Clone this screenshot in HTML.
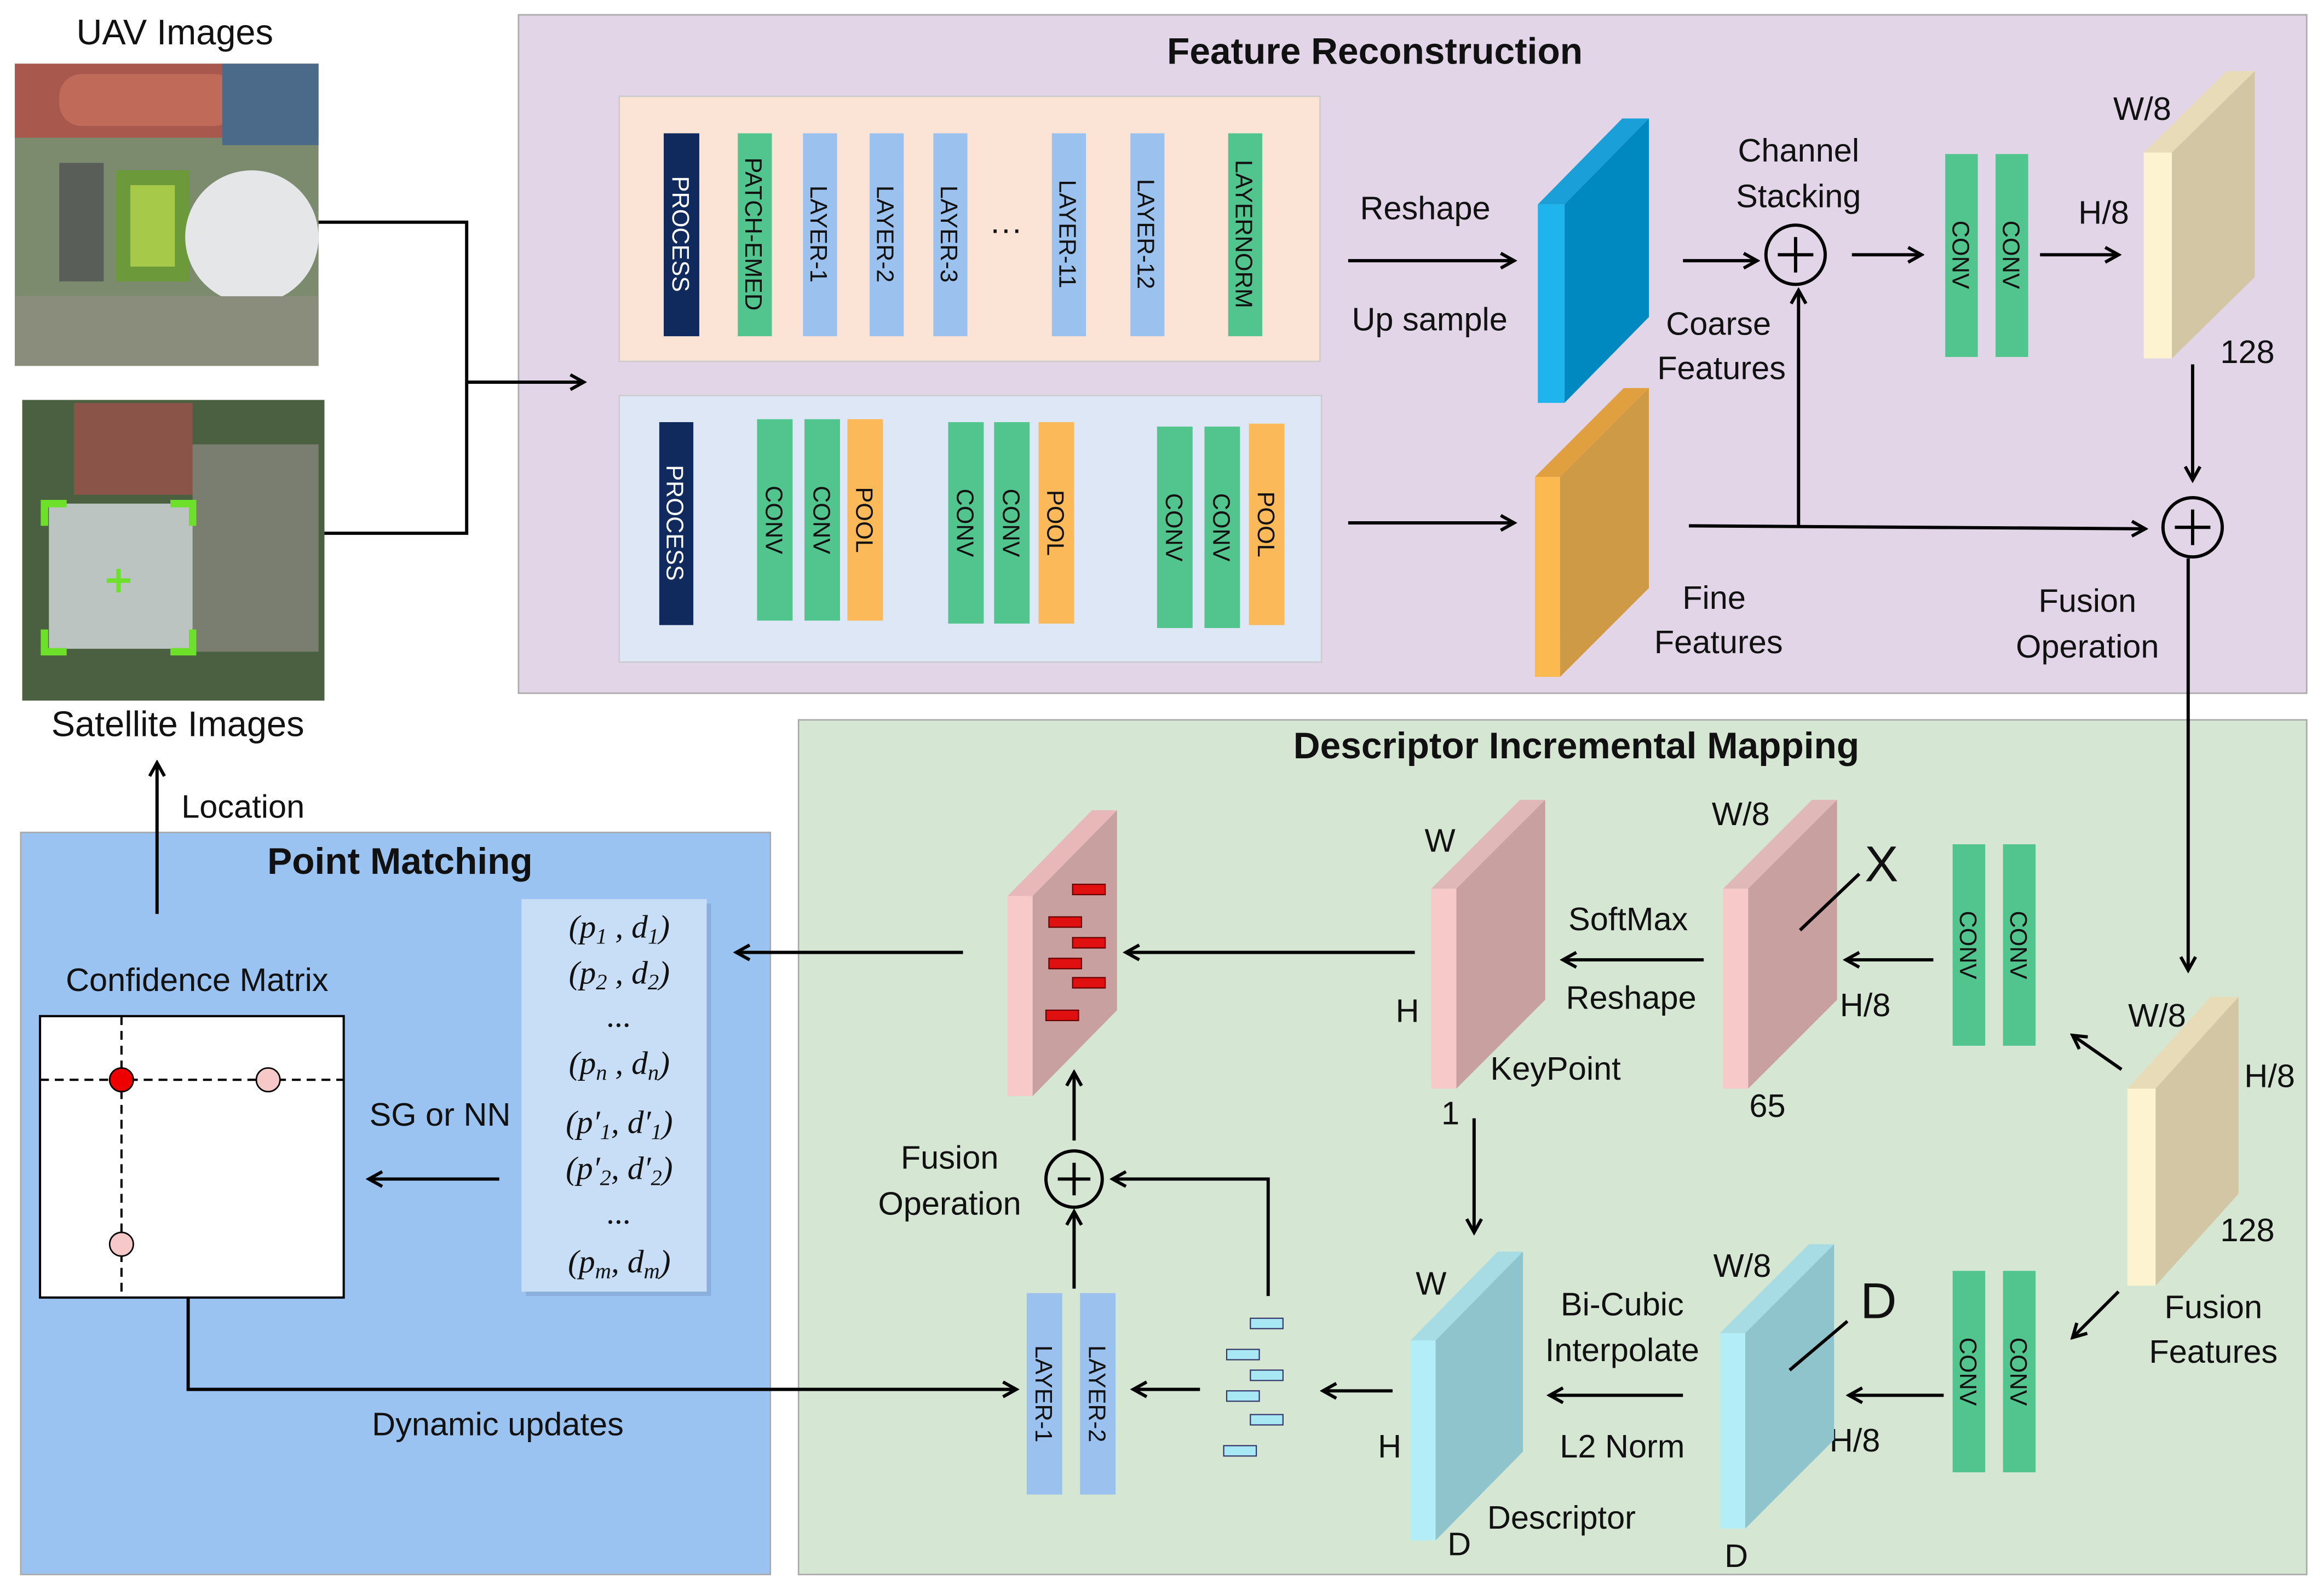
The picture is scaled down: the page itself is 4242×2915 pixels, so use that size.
<!DOCTYPE html>
<html><head><meta charset="utf-8"><style>html,body{margin:0;padding:0;background:#fff}svg{display:block}text{font-family:"Liberation Sans",sans-serif;fill:#111}text.m{font-family:"Liberation Serif",serif;font-style:italic}</style></head>
<body>
<svg width="4242" height="2915" viewBox="0 0 1568 1077.5" xmlns="http://www.w3.org/2000/svg">
<defs>
<marker id="a" markerWidth="12" markerHeight="12" refX="10" refY="6" orient="auto" markerUnits="userSpaceOnUse">
<path d="M1,1 L10,6 L1,11" fill="none" stroke="#000" stroke-width="2.2"/></marker>
</defs>
<rect width="1568" height="1077.5" fill="#fff"/>
<!-- photos -->
<text x="118" y="30" font-size="24" text-anchor="middle">UAV  Images</text>
<rect x="10" y="43" width="205" height="204" fill="#7c8a6e"/>
<rect x="10" y="43" width="205" height="50" fill="#a8584c"/>
<rect x="40" y="50" width="120" height="35" rx="15" fill="#c06a5a"/>
<rect x="150" y="43" width="65" height="55" fill="#4b6a8a"/>
<rect x="78" y="115" width="50" height="75" fill="#6c9a3a"/>
<rect x="88" y="125" width="30" height="55" fill="#a6c94a"/>
<ellipse cx="170" cy="160" rx="45" ry="45" fill="#e4e6e8"/>
<rect x="10" y="200" width="205" height="47" fill="#8a8c7c"/>
<rect x="40" y="110" width="30" height="80" fill="#5a5e58"/>
<text x="120" y="497" font-size="24" text-anchor="middle">Satellite Images</text>
<rect x="15" y="270" width="204" height="203" fill="#4a6040"/>
<rect x="50" y="272" width="80" height="62" fill="#8a5548"/>
<rect x="130" y="300" width="85" height="140" fill="#7a7e70"/>
<rect x="33" y="340" width="97" height="98" fill="#c8cfcf" opacity="0.9"/>
<path d="M30,355 V340 H45 M115,340 H130 V355 M130,425 V440 H115 M45,440 H30 V425" fill="none" stroke="#6de02a" stroke-width="5"/>
<path d="M72,392 H88 M80,384 V400" stroke="#6de02a" stroke-width="3"/>
<!-- Feature Reconstruction -->
<rect x="350" y="10" width="1207" height="458" fill="#e3d5e8" stroke="#aaa" stroke-width="1"/>
<!-- connectors from images -->
<path d="M215,150 H315 V360 H219" fill="none" stroke="#000" stroke-width="2.2"/>
<line x1="315" y1="258" x2="394" y2="258" stroke="#000" stroke-width="2.2" marker-end="url(#a)"/>
<text x="928" y="43" font-size="25" font-weight="bold" text-anchor="middle">Feature Reconstruction</text>
<rect x="418" y="65" width="473" height="179" fill="#fbe3d5" stroke="#ccc"/>
<rect x="418" y="267" width="474" height="180" fill="#dde7f5" stroke="#ccc"/>
<g font-size="16">
<rect x="448" y="90" width="24" height="137" fill="#102a5e"/><text transform="rotate(90 460 158)" x="460" y="164" text-anchor="middle" style="fill:#fff">PROCESS</text>
<rect x="498" y="90" width="23" height="137" fill="#52c58e"/><text transform="rotate(90 509 158)" x="509" y="164" text-anchor="middle">PATCH-EMED</text>
<rect x="542" y="90" width="23" height="137" fill="#9bc2ef"/><text transform="rotate(90 553 158)" x="553" y="164" text-anchor="middle">LAYER-1</text>
<rect x="587" y="90" width="23" height="137" fill="#9bc2ef"/><text transform="rotate(90 598 158)" x="598" y="164" text-anchor="middle">LAYER-2</text>
<rect x="630" y="90" width="23" height="137" fill="#9bc2ef"/><text transform="rotate(90 641 158)" x="641" y="164" text-anchor="middle">LAYER-3</text>
<text x="679" y="162" font-size="22" text-anchor="middle">···</text>
<rect x="710" y="90" width="23" height="137" fill="#9bc2ef"/><text transform="rotate(90 721 158)" x="721" y="164" text-anchor="middle">LAYER-11</text>
<rect x="763" y="90" width="23" height="137" fill="#9bc2ef"/><text transform="rotate(90 774 158)" x="774" y="164" text-anchor="middle">LAYER-12</text>
<rect x="829" y="90" width="23" height="137" fill="#52c58e"/><text transform="rotate(90 840 158)" x="840" y="164" text-anchor="middle">LAYERNORM</text>

<rect x="445" y="285" width="23" height="137" fill="#102a5e"/><text transform="rotate(90 456 353)" x="456" y="359" text-anchor="middle" style="fill:#fff">PROCESS</text>
<rect x="511" y="283" width="24" height="136" fill="#52c58e"/><text transform="rotate(90 523 351)" x="523" y="357" text-anchor="middle">CONV</text>
<rect x="543" y="283" width="24" height="136" fill="#52c58e"/><text transform="rotate(90 555 351)" x="555" y="357" text-anchor="middle">CONV</text>
<rect x="572" y="283" width="24" height="136" fill="#fbb95a"/><text transform="rotate(90 584 351)" x="584" y="357" text-anchor="middle">POOL</text>
<rect x="640" y="285" width="24" height="136" fill="#52c58e"/><text transform="rotate(90 652 353)" x="652" y="359" text-anchor="middle">CONV</text>
<rect x="671" y="285" width="24" height="136" fill="#52c58e"/><text transform="rotate(90 683 353)" x="683" y="359" text-anchor="middle">CONV</text>
<rect x="701" y="285" width="24" height="136" fill="#fbb95a"/><text transform="rotate(90 713 353)" x="713" y="359" text-anchor="middle">POOL</text>
<rect x="781" y="288" width="24" height="136" fill="#52c58e"/><text transform="rotate(90 793 356)" x="793" y="362" text-anchor="middle">CONV</text>
<rect x="813" y="288" width="24" height="136" fill="#52c58e"/><text transform="rotate(90 825 356)" x="825" y="362" text-anchor="middle">CONV</text>
<rect x="843" y="286" width="24" height="136" fill="#fbb95a"/><text transform="rotate(90 855 354)" x="855" y="360" text-anchor="middle">POOL</text>
</g>
<g font-size="22" text-anchor="middle">
<text x="962" y="148">Reshape</text><text x="965" y="223">Up sample</text>
<text x="1214" y="109">Channel</text><text x="1214" y="140">Stacking</text>
<text x="1160" y="226">Coarse</text><text x="1162" y="256">Features</text>
<text x="1420" y="151">H/8</text><text x="1446" y="81">W/8</text><text x="1517" y="245">128</text>
<text x="1157" y="411">Fine</text><text x="1160" y="441">Features</text>
<text x="1409" y="413">Fusion</text><text x="1409" y="444">Operation</text>
</g>
<g stroke="#000" stroke-width="2.2" fill="none">
<line x1="910" y1="176" x2="1022" y2="176" marker-end="url(#a)"/>
<line x1="910" y1="353" x2="1022" y2="353" marker-end="url(#a)"/>
<line x1="1136" y1="176" x2="1186" y2="176" marker-end="url(#a)"/>
<line x1="1250" y1="172" x2="1297" y2="172" marker-end="url(#a)"/>
<line x1="1377" y1="172" x2="1430" y2="172" marker-end="url(#a)"/>
<line x1="1480" y1="246" x2="1480" y2="324" marker-end="url(#a)"/>
<line x1="1140" y1="355" x2="1448" y2="357" marker-end="url(#a)"/>
<line x1="1214" y1="355" x2="1214" y2="196" marker-end="url(#a)"/>
<circle cx="1212" cy="172" r="20"/><path d="M1212,160 V184 M1200,172 H1224"/>
<circle cx="1480" cy="356" r="20"/><path d="M1480,344 V368 M1468,356 H1492"/>
</g>
<rect x="1313" y="104" width="22" height="137" fill="#52c58e"/><text transform="rotate(90 1324 172)" x="1324" y="178" font-size="16" text-anchor="middle">CONV</text>
<rect x="1347" y="104" width="22" height="137" fill="#52c58e"/><text transform="rotate(90 1358 172)" x="1358" y="178" font-size="16" text-anchor="middle">CONV</text>
<!-- slabs top -->
<polygon points="1038,138 1095,80 1113,80 1056,138" fill="#1a9fd8"/><polygon points="1056,138 1113,80 1113,214 1056,272" fill="#0089c0"/><rect x="1038" y="138" width="18" height="134" fill="#1eb4ee"/>
<polygon points="1036,322 1096,262 1113,262 1053,322" fill="#e0a040"/><polygon points="1053,322 1113,262 1113,397 1053,457" fill="#cf9a45"/><rect x="1036" y="322" width="17" height="135" fill="#fbb950"/>
<polygon points="1447,103 1503,48 1522,48 1466,103" fill="#e8dcb8"/><polygon points="1466,103 1522,48 1522,187 1466,242" fill="#d2c6a5"/><rect x="1447" y="103" width="19" height="139" fill="#fdf3d0"/>
<!-- Descriptor Incremental Mapping -->
<rect x="539" y="486" width="1018" height="577" fill="#d5e7d3" stroke="#aaa" stroke-width="1"/>
<line x1="1477" y1="377" x2="1477" y2="655" stroke="#000" stroke-width="2.2" marker-end="url(#a)"/>
<text x="1064" y="512" font-size="25" font-weight="bold" text-anchor="middle">Descriptor  Incremental Mapping</text>
<!-- Point Matching -->
<rect x="14" y="562" width="506" height="501" fill="#9bc3f1" stroke="#aaa" stroke-width="1"/>
<text x="270" y="590" font-size="25" font-weight="bold" text-anchor="middle">Point Matching</text>
<line x1="106" y1="617" x2="106" y2="515" stroke="#000" stroke-width="2.2" marker-end="url(#a)"/>
<text x="164" y="552" font-size="22" text-anchor="middle">Location</text>
<text x="133" y="669" font-size="22" text-anchor="middle">Confidence Matrix</text>
<rect x="27" y="686" width="205" height="190" fill="#fff" stroke="#000" stroke-width="1.5"/>
<path d="M27,729 H232 M82,686 V876" stroke="#000" stroke-width="1.5" stroke-dasharray="6,4"/>
<circle cx="82" cy="729" r="8" fill="#e00" stroke="#000"/><circle cx="181" cy="729" r="8" fill="#f6c8c8" stroke="#000"/><circle cx="82" cy="840" r="8" fill="#f6c8c8" stroke="#000"/>
<rect x="355" y="610" width="125" height="265" fill="#7a9cc8" opacity="0.5"/>
<rect x="352" y="607" width="125" height="265" fill="#c8def7"/>
<g font-size="22" text-anchor="middle">
<text class="m" x="418" y="633">(p<tspan font-size="15" dy="4">1</tspan><tspan dy="-4"> ,  d</tspan><tspan font-size="15" dy="4">1</tspan><tspan dy="-4">)</tspan></text>
<text class="m" x="418" y="664">(p<tspan font-size="15" dy="4">2</tspan><tspan dy="-4"> ,  d</tspan><tspan font-size="15" dy="4">2</tspan><tspan dy="-4">)</tspan></text>
<text class="m" x="418" y="693">...</text>
<text class="m" x="418" y="725">(p<tspan font-size="15" dy="4">n</tspan><tspan dy="-4">  ,  d</tspan><tspan font-size="15" dy="4">n</tspan><tspan dy="-4">)</tspan></text>
<text class="m" x="418" y="765">(p′<tspan font-size="15" dy="4">1</tspan><tspan dy="-4">, d′</tspan><tspan font-size="15" dy="4">1</tspan><tspan dy="-4">)</tspan></text>
<text class="m" x="418" y="796">(p′<tspan font-size="15" dy="4">2</tspan><tspan dy="-4">, d′</tspan><tspan font-size="15" dy="4">2</tspan><tspan dy="-4">)</tspan></text>
<text class="m" x="418" y="826">...</text>
<text class="m" x="418" y="859">(p<tspan font-size="15" dy="4">m</tspan><tspan dy="-4">, d</tspan><tspan font-size="15" dy="4">m</tspan><tspan dy="-4">)</tspan></text>
</g>
<g font-size="22" text-anchor="middle">
<text x="297" y="760">SG or NN</text><text x="336" y="969">Dynamic updates</text>
<text x="641" y="789">Fusion</text><text x="641" y="820">Operation</text>
<text x="972" y="575">W</text><text x="950" y="690">H</text><text x="979" y="759">1</text><text x="1050" y="729">KeyPoint</text>
<text x="1099" y="628">SoftMax</text><text x="1101" y="681">Reshape</text>
<text x="1175" y="557">W/8</text><text x="1259" y="686">H/8</text><text x="1193" y="754">65</text>
<text x="1270" y="595" font-size="34">X</text><text x="1268" y="890" font-size="34">D</text>
<text x="1456" y="693">W/8</text><text x="1532" y="734">H/8</text><text x="1517" y="838">128</text>
<text x="1494" y="890">Fusion</text><text x="1494" y="920">Features</text>
<text x="1176" y="862">W/8</text><text x="1252" y="980">H/8</text><text x="1172" y="1058">D</text>
<text x="1095" y="888">Bi-Cubic</text><text x="1095" y="919">Interpolate</text><text x="1095" y="984">L2 Norm</text>
<text x="966" y="874">W</text><text x="938" y="984">H</text><text x="985" y="1050">D</text><text x="1054" y="1032">Descriptor</text>
</g>
<!-- slabs bottom -->
<polygon points="680,605 737,547 754,547 697,605" fill="#e8b8b8"/><polygon points="697,605 754,547 754,682 697,740" fill="#c8a0a0"/><rect x="680" y="605" width="17" height="135" fill="#f7c9c9"/>
<g fill="#e01010" stroke="#600" stroke-width="0.8"><rect x="724" y="597" width="22" height="7"/><rect x="708" y="619" width="22" height="7"/><rect x="724" y="633" width="22" height="7"/><rect x="708" y="647" width="22" height="7"/><rect x="724" y="660" width="22" height="7"/><rect x="706" y="682" width="22" height="7"/></g>
<polygon points="966,600 1026,540 1043,540 983,600" fill="#e0b8b8"/><polygon points="983,600 1043,540 1043,675 983,735" fill="#c8a0a0"/><rect x="966" y="600" width="17" height="135" fill="#f7c9c9"/>
<polygon points="1163,600 1223,540 1240,540 1180,600" fill="#e0b8b8"/><polygon points="1180,600 1240,540 1240,675 1180,735" fill="#c8a0a0"/><rect x="1163" y="600" width="17" height="135" fill="#f7c9c9"/>
<polygon points="1436,735 1492,673 1511,673 1455,735" fill="#e8dcb8"/><polygon points="1455,735 1511,673 1511,806 1455,868" fill="#d2c6a5"/><rect x="1436" y="735" width="19" height="133" fill="#fdf3d0"/>
<polygon points="1161,900 1221,840 1238,840 1178,900" fill="#a8dce4"/><polygon points="1178,900 1238,840 1238,972 1178,1032" fill="#90c4cc"/><rect x="1161" y="900" width="17" height="132" fill="#b3eef8"/>
<polygon points="952,905 1011,845 1028,845 969,905" fill="#a8dce4"/><polygon points="969,905 1028,845 1028,980 969,1040" fill="#90c4cc"/><rect x="952" y="905" width="17" height="135" fill="#b3eef8"/>
<g fill="#a8e8f4" stroke="#336" stroke-width="0.8"><rect x="844" y="890" width="22" height="7"/><rect x="828" y="911" width="22" height="7"/><rect x="844" y="925" width="22" height="7"/><rect x="828" y="939" width="22" height="7"/><rect x="844" y="955" width="22" height="7"/><rect x="826" y="976" width="22" height="7"/></g>
<g stroke="#000" stroke-width="2.2" fill="none">
<line x1="337" y1="796" x2="249" y2="796" marker-end="url(#a)"/>
<path d="M127,876 V938 H686" marker-end="url(#a)"/>
<line x1="650" y1="643" x2="497" y2="643" marker-end="url(#a)"/>
<line x1="955" y1="643" x2="760" y2="643" marker-end="url(#a)"/>
<line x1="1150" y1="648" x2="1055" y2="648" marker-end="url(#a)"/>
<line x1="1305" y1="648" x2="1246" y2="648" marker-end="url(#a)"/>
<line x1="1432" y1="722" x2="1399" y2="699" marker-end="url(#a)"/>
<line x1="1430" y1="872" x2="1399" y2="903" marker-end="url(#a)"/>
<line x1="1312" y1="942" x2="1248" y2="942" marker-end="url(#a)"/>
<line x1="1136" y1="942" x2="1046" y2="942" marker-end="url(#a)"/>
<line x1="995" y1="755" x2="995" y2="832" marker-end="url(#a)"/>
<line x1="940" y1="939" x2="893" y2="939" marker-end="url(#a)"/>
<line x1="810" y1="938" x2="765" y2="938" marker-end="url(#a)"/>
<line x1="725" y1="870" x2="725" y2="818" marker-end="url(#a)"/>
<line x1="725" y1="770" x2="725" y2="724" marker-end="url(#a)"/>
<path d="M856,875 V796 H751" marker-end="url(#a)"/>
<circle cx="725" cy="796" r="19"/><path d="M725,785 V807 M714,796 H736"/>
<line x1="1215" y1="628" x2="1255" y2="590"/><line x1="1208" y1="925" x2="1247" y2="892"/>
</g>
<g font-size="16" text-anchor="middle">
<rect x="1318" y="570" width="22" height="136" fill="#52c58e"/><text transform="rotate(90 1329 638)" x="1329" y="644">CONV</text>
<rect x="1352" y="570" width="22" height="136" fill="#52c58e"/><text transform="rotate(90 1363 638)" x="1363" y="644">CONV</text>
<rect x="1318" y="858" width="22" height="136" fill="#52c58e"/><text transform="rotate(90 1329 926)" x="1329" y="932">CONV</text>
<rect x="1352" y="858" width="22" height="136" fill="#52c58e"/><text transform="rotate(90 1363 926)" x="1363" y="932">CONV</text>
<rect x="693" y="873" width="24" height="136" fill="#9bc2ef"/><text transform="rotate(90 705 941)" x="705" y="947">LAYER-1</text>
<rect x="729" y="873" width="24" height="136" fill="#9bc2ef"/><text transform="rotate(90 741 941)" x="741" y="947">LAYER-2</text>
</g>
</svg>
</body></html>
